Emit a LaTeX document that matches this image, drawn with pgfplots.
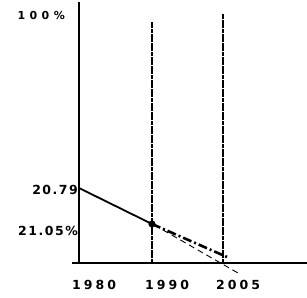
\documentclass[border=0pt]{standalone}
\usepackage{fontspec}
\newfontfamily\hand[LetterSpace=12, UprightFont={DejaVu Sans Bold}]{DejaVu Sans}
\newfontfamily\handx[LetterSpace=24, UprightFont={DejaVu Sans Bold}]{DejaVu Sans}
\newfontfamily\handw[LetterSpace=40, UprightFont={DejaVu Sans Bold}]{DejaVu Sans}
\usepackage{pgfplots}
\pgfplotsset{compat=1.18}
\begin{document}
\begin{tikzpicture}
\useasboundingbox (0,0) rectangle (307pt,297pt);
\begin{axis}[
  at={(72pt,34pt)}, anchor=south west,
  scale only axis, width=235pt, height=261pt,
  xmin=-7, xmax=228, ymin=0, ymax=261,
  axis lines=middle,
  axis line style={-, line width=1.3pt},
  x axis line style={line width=1.2pt},
  y axis line style={line width=2.2pt},
  clip=false,
  hide obscured x ticks=false,
  hide obscured y ticks=false,
  major tick length=0pt,
  xtick={0,73,144}, xticklabels={1980,1990,2005},
  ytick={73,32}, yticklabels={20.79,21.05\%},
  yticklabel style={font=\hand\fontsize{12.5pt}{13pt}\selectfont, anchor=east, inner sep=0pt, xshift=-1pt},
  xticklabel style={font=\handx\fontsize{12.5pt}{13pt}\selectfont, anchor=north west, inner sep=0pt, yshift=-17pt, xshift=-7pt},
]
% vertical year lines
\addplot[black, line width=1.1pt, dash pattern=on 4pt off 0.6pt] coordinates {(73,0) (73,241)};
\addplot[black, line width=1.1pt, dash pattern=on 4pt off 0.6pt] coordinates {(144,0) (144,249)};
% solid segment 1980-1990
\addplot[black, line width=1.8pt, mark=*, mark size=2.6pt, mark indices={2}] coordinates {(0,75) (73,39)};
% thick dashed projection
\addplot[black, line width=2.6pt, dash pattern=on 9pt off 3pt on 2pt off 3pt] coordinates {(73,39) (148,6)};
% thin dashed projection
\addplot[black, line width=0.9pt, dash pattern=on 6pt off 4pt] coordinates {(84,33) (159,-10)};
\node[anchor=east, inner sep=0pt, font=\handw\fontsize{11pt}{12pt}\selectfont] at (axis cs:-14,248) {100\%};
\end{axis}
\end{tikzpicture}
\end{document}
